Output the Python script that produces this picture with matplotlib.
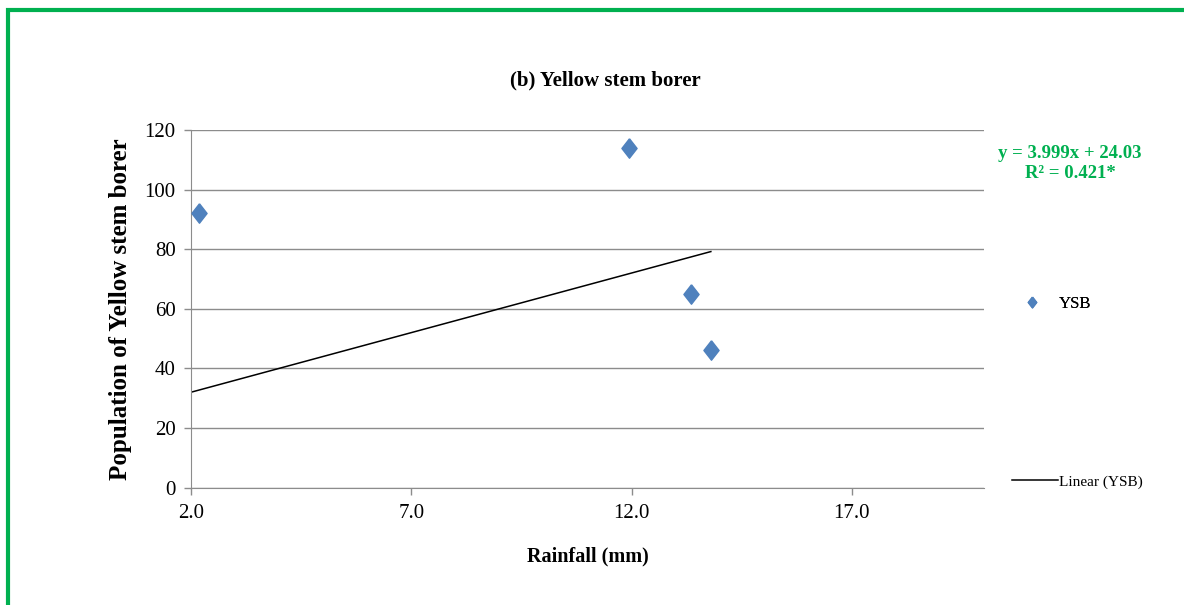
import matplotlib
matplotlib.use("Agg")
import matplotlib.pyplot as plt
from matplotlib.patches import Rectangle
import numpy as np

rainfall = [2.18, 11.95, 13.35, 13.8]
ysb = [92.2, 114.0, 65.0, 46.2]
slope = 3.999
intercept = 24.03
r2_label = "R² = 0.421*"
xticks = [2.0, 7.0, 12.0, 17.0]
yticks = [0, 20, 40, 60, 80, 100, 120]

plt.rcParams['font.family'] = ['Liberation Serif', 'DejaVu Serif']

fig = plt.figure(figsize=(11.84, 6.05), dpi=100)
fig.patch.set_facecolor('white')
# green frame
fig.patches.append(Rectangle((8/1184, -0.05), 1.2, 1 - 10/605 + 0.05,
                             transform=fig.transFigure, fill=False,
                             edgecolor='#00B050', linewidth=3, zorder=10))

ax = fig.add_axes([191/1184, 1 - 487.7/605, (984 - 191)/1184, (487.7 - 130)/605])
ax.set_xlim(2.0, 20.0)
ax.set_ylim(0, 120)
ax.set_xticks(xticks)
ax.set_xticklabels([f"{v:.1f}" for v in xticks])
ax.set_yticks(yticks)
ax.yaxis.grid(True, color='#8c8c8c', linewidth=1)
ax.set_axisbelow(True)
for s in ['top', 'right']:
    ax.spines[s].set_visible(False)
for s in ['left', 'bottom']:
    ax.spines[s].set_color('#8c8c8c')
ax.tick_params(axis='both', colors='#8c8c8c', labelcolor='black', labelsize=15,
               length=5, width=1, direction='out')
ax.tick_params(axis='x', pad=7)
ax.tick_params(axis='y', pad=6)

diamond = [(0, 1), (0.78, 0), (0, -1), (-0.78, 0), (0, 1)]
sc, = ax.plot(rainfall, ysb, linestyle='none', marker=diamond, markersize=14,
              color='#4F81BD', markeredgecolor='#4F81BD', label='YSB', zorder=3)

xl = np.array([2.0, max(rainfall)])
ln, = ax.plot(xl, slope * xl + intercept, color='black', linewidth=1.1,
              label='Linear (YSB)', zorder=2)

ax.set_xlabel('Rainfall (mm)', fontsize=14.5, fontweight='bold', labelpad=17)
ax.set_ylabel('Population of Yellow stem borer', fontsize=18, fontweight='bold', labelpad=9)
fig.text(605/1184, 1 - 80/605, '(b) Yellow stem borer', ha='center', va='center',
         fontsize=15, fontweight='bold')

fig.text(1070/1184, 1 - 153/605, f"y = {slope}x + {intercept}", ha='center', va='center',
         fontsize=13.5, fontweight='bold', color='#00B050')
fig.text(1070/1184, 1 - 173/605, r2_label, ha='center', va='center',
         fontsize=13.5, fontweight='bold', color='#00B050')

leg1 = fig.legend([sc], ['YSB'], loc='center left', bbox_to_anchor=(1000/1184, 1 - 304/605),
                  frameon=False, fontsize=12, markerscale=0.55, handlelength=2.0,
                  handletextpad=0.6)
leg2 = fig.legend([ln], ['Linear (YSB)'], loc='center left', bbox_to_anchor=(998/1184, 1 - 482/605),
                  frameon=False, fontsize=11, handlelength=3.0, handletextpad=0.1)
fig.add_artist(leg1)

fig.savefig('out.png', dpi=100, facecolor='white')
